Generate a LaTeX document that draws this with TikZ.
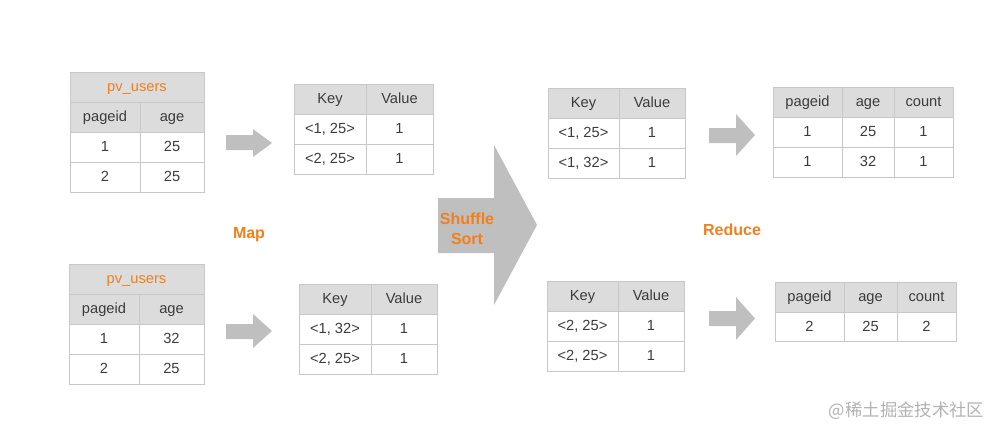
\documentclass[tikz,border=0pt]{standalone}
\usepackage{fontspec}
\setmainfont{Liberation Sans}
\newfontfamily\cjkfont{Noto Sans CJK SC}
\definecolor{hdrgray}{RGB}{220,220,220}
\definecolor{linegray}{RGB}{200,200,200}
\definecolor{arrowgray}{RGB}{191,191,191}
\definecolor{txtgray}{RGB}{60,60,60}
\definecolor{mrorange}{RGB}{240,128,30}
\tikzset{
  hdr/.style={fill=hdrgray, draw=linegray, line width=0.6pt},
  body/.style={fill=white, draw=linegray, line width=0.6pt},
  celltxt/.style={inner sep=0pt, text height=0.72em, text depth=0pt, text=txtgray, font=\fontsize{11}{13}\selectfont},
  titletxt/.style={inner sep=0pt, text height=0.72em, text depth=0pt, text=mrorange, font=\fontsize{11}{13}\selectfont},
  steplabel/.style={inner sep=0.75pt, text=mrorange, font=\bfseries\fontsize{12}{15}\selectfont, align=center},
  blockarrow/.style={fill=arrowgray, draw=none}
}
\begin{document}
\begin{tikzpicture}[x=0.75pt,y=0.75pt,yscale=-1,xscale=1]
\useasboundingbox (0,0) rectangle (1003,436);

%Table: pv_users (top)
\draw [hdr] (70,72) rectangle (204,102);
\draw [hdr] (70,102) rectangle (140,132);
\draw [hdr] (140,102) rectangle (204,132);
\draw [body] (70,132) rectangle (140,162);
\draw [body] (140,132) rectangle (204,162);
\draw [body] (70,162) rectangle (140,192);
\draw [body] (140,162) rectangle (204,192);
% Text Node
\draw (137,87) node [titletxt] (pva title) {pv\_users};
\draw (105,117) node [celltxt] (pva h1) {pageid};
\draw (172,117) node [celltxt] (pva h2) {age};
\draw (105,147) node [celltxt] (pva a1) {1};
\draw (172,147) node [celltxt] (pva a2) {25};
\draw (105,177) node [celltxt] (pva b1) {2};
\draw (172,177) node [celltxt] (pva b2) {25};

%Table: pv_users (bottom)
\draw [hdr] (69,264) rectangle (204,294);
\draw [hdr] (69,294) rectangle (139,324);
\draw [hdr] (139,294) rectangle (204,324);
\draw [body] (69,324) rectangle (139,354);
\draw [body] (139,324) rectangle (204,354);
\draw [body] (69,354) rectangle (139,384);
\draw [body] (139,354) rectangle (204,384);
% Text Node
\draw (136.5,279) node [titletxt] (pvb title) {pv\_users};
\draw (104,309) node [celltxt] (pvb h1) {pageid};
\draw (171.5,309) node [celltxt] (pvb h2) {age};
\draw (104,339) node [celltxt] (pvb a1) {1};
\draw (171.5,339) node [celltxt] (pvb a2) {32};
\draw (104,369) node [celltxt] (pvb b1) {2};
\draw (171.5,369) node [celltxt] (pvb b2) {25};

%Shape: Arrow (map, top)
\draw [blockarrow] (226,135) -- (253,135) -- (253,129) -- (272,143) -- (253,157) -- (253,150) -- (226,150) -- cycle ;
%Shape: Arrow (map, bottom)
\draw [blockarrow] (226,324) -- (253,324) -- (253,314) -- (272,331) -- (253,348) -- (253,339) -- (226,339) -- cycle ;

%Table: map output (top)
\draw [hdr] (294,84) rectangle (366,114);
\draw [hdr] (366,84) rectangle (433,114);
\draw [body] (294,114) rectangle (366,144);
\draw [body] (366,114) rectangle (433,144);
\draw [body] (294,144) rectangle (366,174);
\draw [body] (366,144) rectangle (433,174);
% Text Node
\draw (330,99) node [celltxt] (mapa h1) {Key};
\draw (399.5,99) node [celltxt] (mapa h2) {Value};
\draw (330,129) node [celltxt] (mapa a1) {<1, 25>};
\draw (399.5,129) node [celltxt] (mapa a2) {1};
\draw (330,159) node [celltxt] (mapa b1) {<2, 25>};
\draw (399.5,159) node [celltxt] (mapa b2) {1};

%Table: map output (bottom)
\draw [hdr] (299,284) rectangle (371,314);
\draw [hdr] (371,284) rectangle (437,314);
\draw [body] (299,314) rectangle (371,344);
\draw [body] (371,314) rectangle (437,344);
\draw [body] (299,344) rectangle (371,374);
\draw [body] (371,344) rectangle (437,374);
% Text Node
\draw (335,299) node [celltxt] (mapb h1) {Key};
\draw (404,299) node [celltxt] (mapb h2) {Value};
\draw (335,329) node [celltxt] (mapb a1) {<1, 32>};
\draw (404,329) node [celltxt] (mapb a2) {1};
\draw (335,359) node [celltxt] (mapb b1) {<2, 25>};
\draw (404,359) node [celltxt] (mapb b2) {1};

% Text Node
\draw (249,235) node [steplabel] (map label) {Map};

%Shape: Arrow (shuffle)
\draw [blockarrow] (438,198) -- (494,198) -- (494,145) -- (537,225) -- (494,305) -- (494,253) -- (438,253) -- cycle ;
% Text Node
\draw (467,229) node [steplabel] (shuffle label) {Shuffle\\Sort};

%Table: reduce input (top)
\draw [hdr] (548,88) rectangle (619,118);
\draw [hdr] (619,88) rectangle (685,118);
\draw [body] (548,118) rectangle (619,148);
\draw [body] (619,118) rectangle (685,148);
\draw [body] (548,148) rectangle (619,178);
\draw [body] (619,148) rectangle (685,178);
% Text Node
\draw (583.5,103) node [celltxt] (reda h1) {Key};
\draw (652,103) node [celltxt] (reda h2) {Value};
\draw (583.5,133) node [celltxt] (reda a1) {<1, 25>};
\draw (652,133) node [celltxt] (reda a2) {1};
\draw (583.5,163) node [celltxt] (reda b1) {<1, 32>};
\draw (652,163) node [celltxt] (reda b2) {1};

%Table: reduce input (bottom)
\draw [hdr] (547,281) rectangle (618,311);
\draw [hdr] (618,281) rectangle (684,311);
\draw [body] (547,311) rectangle (618,341);
\draw [body] (618,311) rectangle (684,341);
\draw [body] (547,341) rectangle (618,371);
\draw [body] (618,341) rectangle (684,371);
% Text Node
\draw (582.5,296) node [celltxt] (redb h1) {Key};
\draw (651,296) node [celltxt] (redb h2) {Value};
\draw (582.5,326) node [celltxt] (redb a1) {<2, 25>};
\draw (651,326) node [celltxt] (redb a2) {1};
\draw (582.5,356) node [celltxt] (redb b1) {<2, 25>};
\draw (651,356) node [celltxt] (redb b2) {1};

% Text Node
\draw (732,230) node [steplabel] (reduce label) {Reduce};

%Shape: Arrow (reduce, top)
\draw [blockarrow] (709,128) -- (736,128) -- (736,114) -- (755,135) -- (736,156) -- (736,143) -- (709,143) -- cycle ;
%Shape: Arrow (reduce, bottom)
\draw [blockarrow] (709,311) -- (736,311) -- (736,297) -- (755,318.5) -- (736,340) -- (736,326) -- (709,326) -- cycle ;

%Table: result (top)
\draw [hdr] (773,87) rectangle (842,117);
\draw [hdr] (842,87) rectangle (894,117);
\draw [hdr] (894,87) rectangle (953,117);
\draw [body] (773,117) rectangle (842,147);
\draw [body] (842,117) rectangle (894,147);
\draw [body] (894,117) rectangle (953,147);
\draw [body] (773,147) rectangle (842,177);
\draw [body] (842,147) rectangle (894,177);
\draw [body] (894,147) rectangle (953,177);
% Text Node
\draw (807.5,102) node [celltxt] (resa h1) {pageid};
\draw (868,102) node [celltxt] (resa h2) {age};
\draw (923.5,102) node [celltxt] (resa h3) {count};
\draw (807.5,132) node [celltxt] (resa a1) {1};
\draw (868,132) node [celltxt] (resa a2) {25};
\draw (923.5,132) node [celltxt] (resa a3) {1};
\draw (807.5,162) node [celltxt] (resa b1) {1};
\draw (868,162) node [celltxt] (resa b2) {32};
\draw (923.5,162) node [celltxt] (resa b3) {1};

%Table: result (bottom)
\draw [hdr] (775,282) rectangle (844,312);
\draw [hdr] (844,282) rectangle (897,312);
\draw [hdr] (897,282) rectangle (956,312);
\draw [body] (775,312) rectangle (844,341);
\draw [body] (844,312) rectangle (897,341);
\draw [body] (897,312) rectangle (956,341);
% Text Node
\draw (809.5,297) node [celltxt] (resb h1) {pageid};
\draw (870.5,297) node [celltxt] (resb h2) {age};
\draw (926.5,297) node [celltxt] (resb h3) {count};
\draw (809.5,326.5) node [celltxt] (resb a1) {2};
\draw (870.5,326.5) node [celltxt] (resb a2) {25};
\draw (926.5,326.5) node [celltxt] (resb a3) {2};

% Text Node
\draw (906.5,411) node [inner sep=0.75pt, text=black!30, font=\cjkfont\fontsize{13}{15}\selectfont] (watermark) {@稀土掘金技术社区};

\end{tikzpicture}
\end{document}
